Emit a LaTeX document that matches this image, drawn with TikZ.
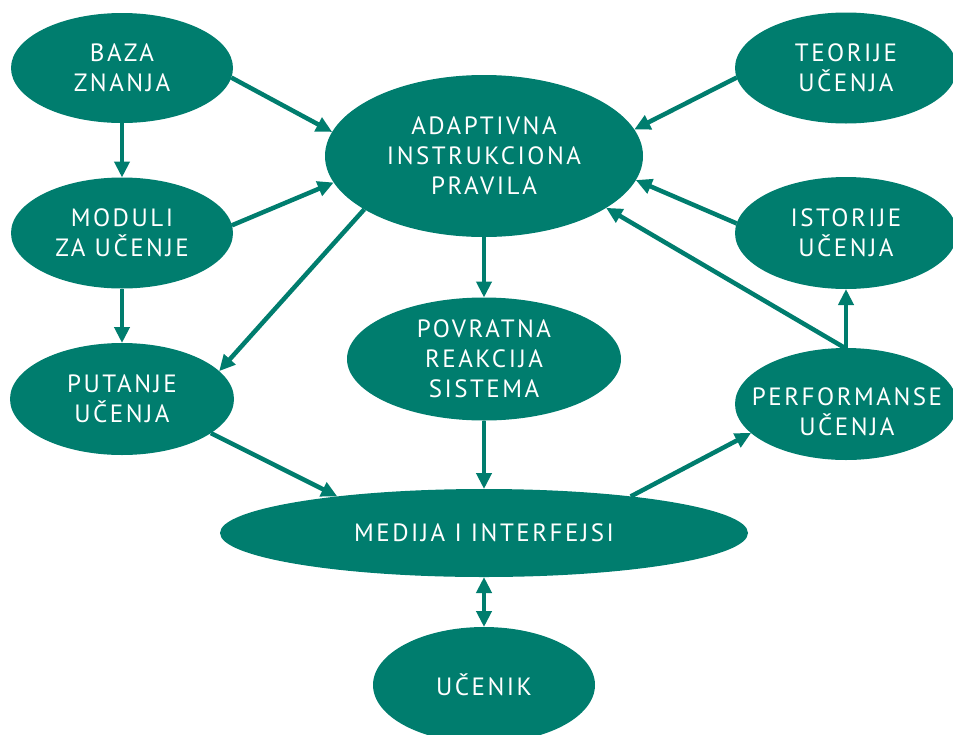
\documentclass[tikz,border=0pt]{standalone}
\usepackage{fontspec}
\setmainfont{PT Sans}[LetterSpace=10]
\usetikzlibrary{arrows.meta,shapes.geometric}
\definecolor{teal}{RGB}{0,125,110}
\tikzset{
  blob/.style={ellipse, fill=teal, text=white, inner sep=0pt, outer sep=0pt,
    align=center, font=\fontsize{25}{30}\selectfont},
  caption/.style={text=white, inner sep=0pt, align=center,
    font=\fontsize{25}{30}\selectfont},
  flow/.style={draw=teal, line width=4.5pt, -{Triangle[length=16pt,width=15pt]}},
  twoway/.style={draw=teal, line width=4.5pt,
    {Triangle[length=16pt,width=15pt]}-{Triangle[length=16pt,width=15pt]}},
}
\begin{document}
\begin{tikzpicture}[x=1pt,y=-1pt]
\useasboundingbox (0,0) rectangle (953,734);
\clip (0,0) rectangle (953,734);

% nodes
\node[blob, minimum width=222pt, minimum height=110pt] (baza) at (122,68) {BAZA\\ZNANJA};
\node[blob, minimum width=222pt, minimum height=111pt] (moduli) at (122,233) {MODULI\\ZA UČENJE};
\node[blob, minimum width=224pt, minimum height=112pt] (putanje) at (122,399) {PUTANJE\\UČENJA};
\node[blob, minimum width=318pt, minimum height=162pt] (adapt) at (484,156) {ADAPTIVNA\\INSTRUKCIONA\\PRAVILA};
\node[blob, minimum width=274pt, minimum height=123pt] (povrat) at (484,359) {POVRATNA\\REAKCIJA\\SISTEMA};
\node[blob, minimum width=528pt, minimum height=88pt] (medija) at (484,533) {MEDIJA I INTERFEJSI};
\node[blob, minimum width=222pt, minimum height=116pt] (ucenik) at (484,685) {UČENIK};
\node[blob, minimum width=222pt, minimum height=111pt] (teorije) at (846,68) {TEORIJE\\UČENJA};
\node[blob, minimum width=222pt, minimum height=112pt] (istorije) at (846,233) {ISTORIJE\\UČENJA};
\node[blob, minimum width=222pt, minimum height=112pt] (perf) at (846,404) {};
\node[caption] (perftext) at (847,412) {PERFORMANSE\\UČENJA};

% connectors
\draw[flow] (baza.south) -- (moduli.north);
\draw[flow] (moduli.south) -- (putanje.north);
\draw[flow] (baza.-5) -- (adapt.171);
\draw[flow] (moduli.4) -- (adapt.190);
\draw[flow] (adapt.204) -- (putanje.16);
\draw[flow] (putanje.-21) -- (medija.166);
\draw[flow] (adapt.south) -- (povrat.north);
\draw[flow] (povrat.south) -- (medija.north);
\draw[flow] (medija.14.6) -- (perf.197);
\draw[flow] (perf.north) -- (istorije.south);
\draw[flow] (perf.91) -- (adapt.-23);
\draw[flow] (istorije.175) -- (adapt.-9);
\draw[flow] (teorije.185) -- (adapt.10);
\draw[twoway] (medija.south) -- (ucenik.north);
\end{tikzpicture}
\end{document}
